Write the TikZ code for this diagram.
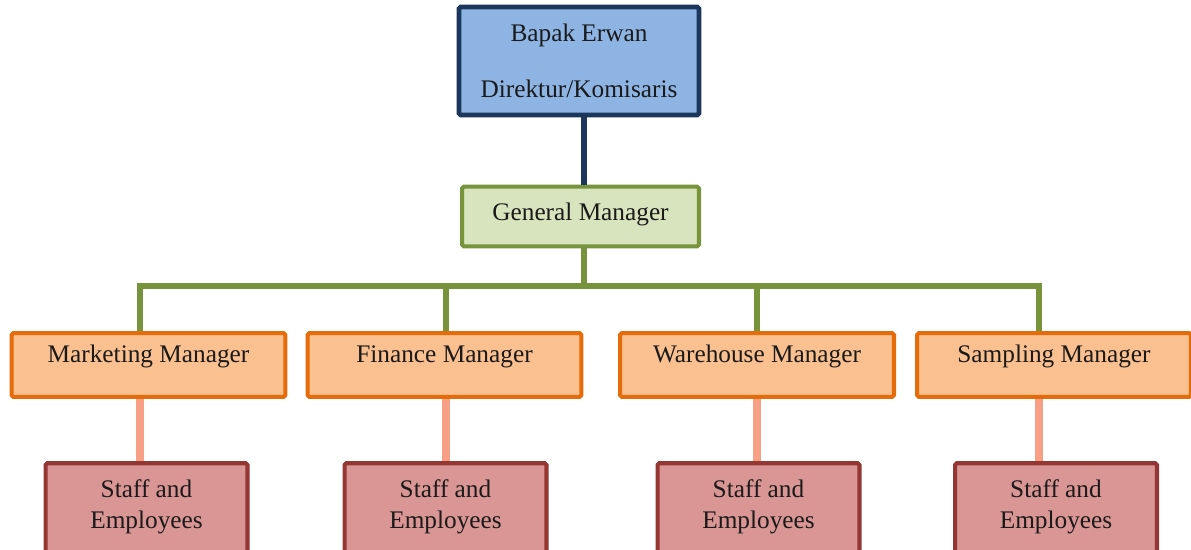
\documentclass[tikz,border=0pt]{standalone}
\usepackage{fontspec}
\setmainfont{Liberation Serif}
\usetikzlibrary{positioning}

\definecolor{dirfill}{HTML}{8EB4E3}
\definecolor{dirline}{HTML}{1C365C}
\definecolor{gmfill}{HTML}{D7E4BD}
\definecolor{gmline}{HTML}{77933C}
\definecolor{mgrfill}{HTML}{FAC090}
\definecolor{mgrline}{HTML}{E46C0A}
\definecolor{stafffill}{HTML}{D99694}
\definecolor{staffline}{HTML}{943634}
\definecolor{stafflink}{HTML}{F7A086}
\definecolor{ink}{HTML}{1A1A1A}

\begin{document}
\begin{tikzpicture}[
    x=0.02cm, y=-0.02cm,
    box/.style={draw, line width=2.3pt, rounded corners=1pt, inner xsep=0pt, inner ysep=0pt, text=ink, font=\fontsize{14.4}{17.6}\selectfont},
    director/.style={box, draw=dirline, fill=dirfill, line width=2.7pt, align=center, minimum width=4.8cm, minimum height=2.16cm},
    general/.style={box, draw=gmline, fill=gmfill, minimum width=4.74cm, text height=19.3pt, text depth=14.7pt},
    manager/.style={box, draw=mgrline, fill=mgrfill, minimum width=5.48cm, text height=16.4pt, text depth=19.8pt},
    staff/.style={box, draw=staffline, fill=stafffill, minimum width=4.04cm, text height=19.3pt, text depth=58.4pt},
    toplink/.style={draw=dirline, line width=3pt},
    buslink/.style={draw=gmline, line width=3.4pt},
    downlink/.style={draw=stafflink, line width=4.6pt}
]
\useasboundingbox (0,0) rectangle (1191,549);
\clip (0,0) rectangle (1191,549);

% top of the chart
\node[director] (boss) at (579,61) {Bapak Erwan\\[14pt]Direktur/Komisaris};
\node[general] (gm) at (580.5,216.5) {General Manager};

% managers
\node[manager] (mkt) at (148.5,365) {Marketing Manager};
\node[manager] (fin) at (444.5,365) {Finance Manager};
\node[manager] (wh) at (757,365) {Warehouse Manager};
\node[manager] (smp) at (1054,365) {Sampling Manager};

% staff under each manager
\node[staff] (mkts) at (146.5,531.5) {\begin{tabular}[t]{@{}c@{}}Staff and\\Employees\end{tabular}};
\node[staff] (fins) at (445.5,531.5) {\begin{tabular}[t]{@{}c@{}}Staff and\\Employees\end{tabular}};
\node[staff] (whs) at (758.5,531.5) {\begin{tabular}[t]{@{}c@{}}Staff and\\Employees\end{tabular}};
\node[staff] (smps) at (1056,531.5) {\begin{tabular}[t]{@{}c@{}}Staff and\\Employees\end{tabular}};

% where the lines run
\coordinate (spine) at (584,0);
\coordinate (bus) at (0,286);
\coordinate (tap1) at (140,0);
\coordinate (tap2) at (446,0);
\coordinate (tap3) at (757,0);
\coordinate (tap4) at (1039,0);

\draw[toplink] (boss.south -| spine) -- (gm.north -| spine);
\draw[buslink] (gm.south -| spine) -- (bus -| spine);
\draw[buslink] (mkt.north -| tap1) -- (bus -| tap1) -- (bus -| tap4) -- (smp.north -| tap4);
\draw[buslink] (bus -| tap2) -- (fin.north -| tap2);
\draw[buslink] (bus -| tap3) -- (wh.north -| tap3);

\draw[downlink] (mkt.south -| tap1) -- (mkts.north -| tap1);
\draw[downlink] (fin.south -| tap2) -- (fins.north -| tap2);
\draw[downlink] (wh.south -| tap3) -- (whs.north -| tap3);
\draw[downlink] (smp.south -| tap4) -- (smps.north -| tap4);
\end{tikzpicture}
\end{document}
